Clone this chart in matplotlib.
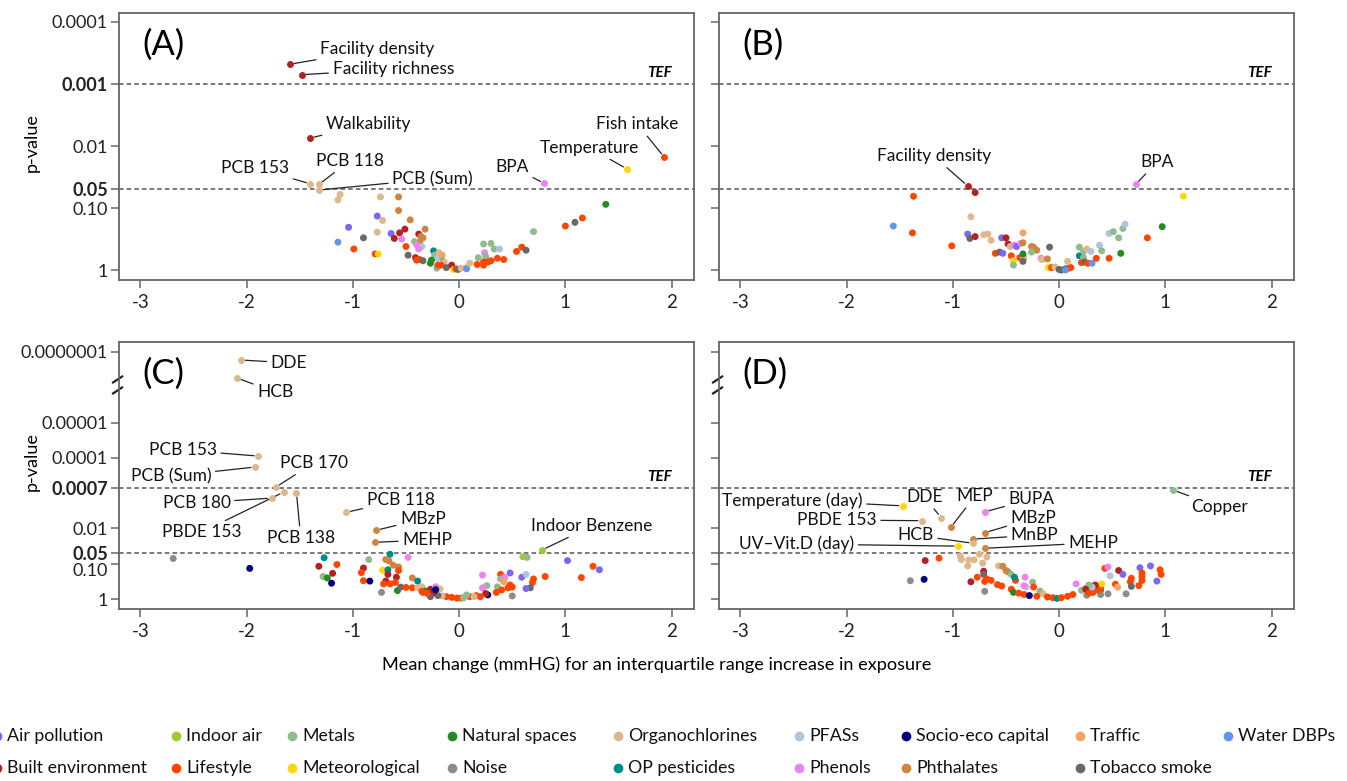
import numpy as np
import matplotlib.pyplot as plt
from matplotlib.transforms import ScaledTranslation

plt.rcParams['font.family'] = ['Lato', 'DejaVu Sans']

# exposure families, legend order (column-major, 2 rows)
fam_codes = ['AP', 'BE', 'IA', 'LS', 'ME', 'MT', 'NS', 'NO', 'OC', 'OP', 'PF', 'PH', 'SE', 'PT', 'TR', 'TS', 'WD']
fam_names = ['Air pollution', 'Built environment', 'Indoor air', 'Lifestyle', 'Metals', 'Meteorological',
             'Natural spaces', 'Noise', 'Organochlorines', 'OP pesticides', 'PFASs', 'Phenols',
             'Socio-eco capital', 'Phthalates', 'Traffic', 'Tobacco smoke', 'Water DBPs']
fam_colors = ['#7B68EE', '#B22222', '#9ACD32', '#FF4500', '#8FBC8F', '#FFD700', '#228B22', '#8C8C8C',
              '#DDB88C', '#008B8B', '#B0C4DE', '#EE82EE', '#000080', '#CD853F', '#F4A460', '#696969', '#6495ED']
col = dict(zip(fam_codes, fam_colors))

# ---- panel A: (mean change, -log10 p, family)
A_pts = [(-1.12,1.22,'OC'),(-1.14,1.13,'OC'),(-0.74,1.18,'OC'),(-0.57,1.18,'PT'),(-0.57,0.96,'PT'),
         (-0.77,0.87,'AP'),(-0.72,0.80,'OC'),(-0.46,0.81,'PT'),(-1.04,0.69,'AP'),(-0.77,0.61,'OC'),
         (-0.90,0.52,'TS'),(-1.14,0.45,'WD'),(-0.99,0.34,'LS'),(-0.64,0.59,'AP'),(-0.56,0.60,'BE'),
         (-0.51,0.66,'BE'),(-0.61,0.51,'BE'),(-0.54,0.50,'PH'),(-0.32,0.66,'PT'),(-0.38,0.58,'BE'),
         (-0.36,0.54,'PT'),(-0.34,0.52,'PT'),(-0.37,0.45,'PT'),(-0.42,0.46,'ME'),(-0.40,0.41,'PH'),
         (-0.35,0.38,'PF'),(-0.38,0.34,'PH'),(-0.50,0.38,'LS'),(-0.79,0.26,'LS'),(-0.76,0.26,'MT'),
         (-0.48,0.24,'TS'),(-0.41,0.20,'BE'),(-0.40,0.16,'LS'),(-0.37,0.17,'LS'),(-0.34,0.15,'TS'),
         (-0.24,0.31,'OP'),(-0.23,0.24,'ME'),(-0.19,0.28,'OC'),(-0.17,0.20,'OP'),(-0.20,0.19,'PF'),
         (-0.16,0.24,'TR'),(-0.14,0.13,'OC'),(-0.26,0.16,'NS'),(-0.27,0.11,'NS'),(-0.21,0.03,'ME'),
         (-0.20,0.08,'LS'),(-0.17,0.08,'LS'),(-0.12,0.04,'TS'),(-0.07,0.08,'BE'),(-0.05,0.01,'MT'),
         (-0.03,0.02,'LS'),(-0.01,0.01,'TS'),(0.02,0.03,'OC'),(0.07,0.04,'OC'),(0.07,0.02,'WD'),
         (0.10,0.11,'OC'),(0.17,0.09,'LS'),(0.18,0.20,'ME'),(0.23,0.42,'ME'),(0.30,0.43,'ME'),
         (0.24,0.28,'PH'),(0.25,0.22,'ME'),(0.33,0.34,'ME'),(0.38,0.34,'PF'),(0.23,0.13,'LS'),
         (0.23,0.08,'LS'),(0.27,0.13,'LS'),(0.30,0.15,'LS'),(0.36,0.19,'LS'),(0.42,0.17,'LS'),
         (0.54,0.30,'LS'),(0.59,0.37,'LS'),(0.63,0.32,'TS'),(0.70,0.62,'ME'),(1.00,0.71,'LS'),
         (1.09,0.77,'TS'),(1.16,0.84,'LS'),(1.38,1.06,'NS')]
# labelled points: name, x, -log10 p, family, label x, label y
A_lab = [('Facility density', -1.59, 3.32, 'BE', -0.77, 3.56),
         ('Facility richness', -1.48, 3.15, 'BE', -0.62, 3.24),
         ('Walkability', -1.40, 2.13, 'BE', -0.85, 2.35),
         ('PCB 153', -1.40, 1.39, 'OC', -1.92, 1.65),
         ('PCB 118', -1.32, 1.38, 'OC', -1.03, 1.76),
         ('PCB (Sum)', -1.32, 1.29, 'OC', -0.25, 1.47),
         ('BPA', 0.80, 1.40, 'PH', 0.50, 1.66),
         ('Temperature', 1.58, 1.63, 'MT', 1.23, 1.97),
         ('Fish intake', 1.93, 1.82, 'LS', 1.68, 2.35)]

# ---- panel B
B_pts = [(-1.37,1.19,'LS'),(-1.38,0.60,'LS'),(-1.01,0.39,'LS'),(-0.79,1.25,'BE'),(-0.83,0.86,'OC'),
         (-0.86,0.58,'AP'),(-0.84,0.51,'TS'),(-0.79,0.54,'BE'),(-0.71,0.57,'OC'),(-0.67,0.58,'OC'),
         (-0.64,0.48,'OC'),(-0.54,0.52,'AP'),(-0.50,0.52,'BE'),(-0.34,0.60,'TR'),(-0.48,0.42,'BE'),
         (-0.46,0.38,'OC'),(-0.42,0.40,'PH'),(-0.40,0.38,'AP'),(-0.36,0.43,'PH'),(-0.34,0.44,'PT'),
         (-0.26,0.38,'PT'),(-0.24,0.37,'PT'),(-0.21,0.32,'PT'),(-0.26,0.29,'ME'),(-0.09,0.37,'TS'),
         (-0.60,0.27,'LS'),(-0.56,0.29,'TS'),(-0.53,0.27,'AP'),(-0.45,0.23,'LS'),(-0.37,0.20,'LS'),
         (-0.35,0.19,'LS'),(-0.33,0.20,'OC'),(-0.34,0.26,'NS'),(-0.43,0.15,'MT'),(-0.43,0.08,'ME'),
         (-0.34,0.14,'TS'),(-0.17,0.19,'PH'),(-0.16,0.17,'OC'),(-0.11,0.18,'PT'),(-0.10,0.04,'MT'),
         (-0.07,0.04,'LS'),(-0.04,0.05,'OC'),(0.00,0.01,'TS'),(0.02,0.00,'TS'),(0.06,0.02,'OP'),
         (0.09,0.03,'LS'),(0.11,0.04,'LS'),(0.08,0.14,'OC'),(0.06,0.00,'WD'),(0.19,0.23,'OP'),
         (0.19,0.37,'ME'),(0.23,0.30,'ME'),(0.26,0.34,'OC'),(0.30,0.30,'PF'),(0.23,0.20,'ME'),
         (0.21,0.12,'LS'),(0.24,0.13,'TS'),(0.27,0.11,'LS'),(0.31,0.11,'WD'),(0.35,0.19,'LS'),
         (0.38,0.40,'PF'),(0.40,0.31,'ME'),(0.47,0.19,'LS'),(0.47,0.59,'PF'),(0.51,0.62,'ME'),
         (0.56,0.52,'ME'),(0.60,0.67,'ME'),(0.62,0.74,'PF'),(0.58,0.27,'NS'),(0.83,0.52,'LS'),
         (0.97,0.70,'NS'),(1.17,1.19,'MT'),(-1.56,0.71,'WD')]
B_lab = [('Facility density', -0.86, 1.355, 'BE', -1.18, 1.84),
         ('BPA', 0.72, 1.38, 'PH', 0.92, 1.74)]

# ---- panel C
C_pts = [(-2.69,1.15,'NO'),(-1.97,0.87,'SE'),(-1.27,1.17,'OP'),(-1.32,0.93,'BE'),(-1.15,0.98,'LS'),
         (-1.19,0.73,'BE'),(-1.28,0.64,'ME'),(-1.24,0.60,'NS'),(-1.20,0.45,'SE'),(-0.85,1.12,'ME'),
         (-0.90,0.88,'BE'),(-0.92,0.75,'LS'),(-0.90,0.52,'LS'),(-0.84,0.51,'SE'),(-0.65,1.27,'OP'),
         (-0.69,1.12,'PT'),(-0.66,1.08,'PT'),(-0.62,0.96,'PT'),(-0.57,0.91,'PT'),(-0.57,0.81,'LS'),
         (-0.72,0.82,'MT'),(-0.67,0.83,'OP'),(-0.67,0.70,'BE'),(-0.59,0.62,'BE'),(-0.69,0.51,'BE'),
         (-0.71,0.43,'LS'),(-0.65,0.43,'LS'),(-0.60,0.47,'LS'),(-0.73,0.19,'NO'),(-0.58,0.24,'NS'),
         (-0.55,0.34,'TS'),(-0.50,0.33,'LS'),(-0.44,0.32,'LS'),(-0.44,0.60,'PT'),(-0.39,0.51,'OP'),
         (-0.39,0.32,'OC'),(-0.35,0.35,'OC'),(-0.48,1.18,'PH'),(-0.34,0.19,'LS'),(-0.30,0.21,'LS'),
         (-0.27,0.28,'BE'),(-0.22,0.35,'PH'),(-0.23,0.23,'SE'),(-0.27,0.11,'TS'),(-0.32,0.23,'NS'),
         (0.60,1.20,'IA'),(0.64,1.18,'ME'),(1.02,1.09,'AP'),(1.26,0.93,'LS'),(1.32,0.83,'AP'),
         (1.15,0.61,'LS'),(0.81,0.64,'LS'),(0.70,0.57,'LS'),(0.69,0.47,'LS'),(0.67,0.32,'TS'),
         (0.63,0.30,'AP'),(0.59,0.62,'AP'),(0.63,0.70,'PF'),(0.48,0.74,'AP'),(0.50,0.34,'LS'),
         (0.48,0.40,'LS'),(0.46,0.32,'LS'),(0.50,0.09,'NO'),(0.39,0.70,'LS'),(0.39,0.57,'ME'),
         (0.43,0.62,'PH'),(0.42,0.49,'TR'),(0.36,0.35,'ME'),(0.40,0.26,'LS'),(0.35,0.19,'LS'),
         (0.22,0.68,'PH'),(0.26,0.38,'ME'),(0.22,0.32,'PH'),(0.27,0.12,'SE'),(0.25,0.16,'BE'),
         (0.20,0.07,'LS'),(0.16,0.10,'LS'),(0.10,0.07,'LS'),(0.07,0.12,'ME'),(0.02,0.03,'LS'),
         (-0.02,0.03,'LS'),(-0.07,0.05,'LS'),(-0.12,0.07,'LS'),(-0.16,0.09,'OC'),(-0.20,0.10,'TS'),
         (-0.24,0.18,'BE'),(-0.18,0.29,'OC'),(-0.22,0.27,'SE'),(-0.27,0.07,'TS'),(-0.30,0.16,'LS'),
         (-0.35,0.22,'LS'),(0.04,0.03,'ME'),(0.14,0.07,'OC')]
C_lab = [('DDE', -2.05, 6.77, 'OC', -1.60, 6.69),
         ('HCB', -2.09, 6.26, 'OC', -1.73, 5.86),
         ('PCB 153', -1.89, 4.05, 'OC', -2.60, 4.22),
         ('PCB (Sum)', -1.92, 3.74, 'OC', -2.71, 3.48),
         ('PCB 170', -1.725, 3.17, 'OC', -1.37, 3.85),
         ('PCB 180', -1.765, 2.86, 'OC', -2.47, 2.72),
         ('PBDE 153', -1.65, 3.03, 'OC', -2.42, 1.90),
         ('PCB 138', -1.53, 3.00, 'OC', -1.49, 1.73),
         ('PCB 118', -1.06, 2.46, 'OC', -0.55, 2.80),
         ('MBzP', -0.78, 1.95, 'PT', -0.34, 2.27),
         ('MEHP', -0.79, 1.61, 'PT', -0.30, 1.67),
         ('Indoor Benzene', 0.78, 1.39, 'IA', 1.25, 2.07)]

# ---- panel D
D_pts = [(-1.26,1.09,'BE'),(-1.13,1.16,'LS'),(-1.40,0.52,'NO'),(-1.27,0.56,'SE'),(-0.93,1.22,'OC'),
         (-0.92,1.12,'OC'),(-0.85,1.11,'OC'),(-0.80,1.11,'OC'),(-0.75,1.27,'OC'),(-0.68,1.19,'OC'),
         (-0.72,1.02,'OC'),(-0.86,0.94,'OC'),(-0.57,0.94,'OC'),(-0.53,0.93,'PT'),(-0.50,0.81,'PT'),
         (-0.48,0.77,'PT'),(-0.45,0.70,'ME'),(-0.71,0.79,'BE'),(-0.71,0.70,'TS'),(-0.77,0.62,'LS'),
         (-0.83,0.49,'BE'),(-0.68,0.57,'LS'),(-0.64,0.53,'LS'),(-0.70,0.50,'LS'),(-0.70,0.22,'NO'),
         (-0.58,0.41,'LS'),(-0.54,0.37,'LS'),(-0.41,0.53,'LS'),(-0.42,0.62,'OP'),(-0.32,0.62,'PH'),
         (-0.25,0.48,'ME'),(-0.24,0.34,'LS'),(-0.31,0.34,'PF'),(-0.33,0.38,'PH'),(-0.45,0.28,'LS'),
         (-0.43,0.19,'NS'),(-0.38,0.17,'LS'),(-0.33,0.13,'LS'),(-0.28,0.10,'SE'),(-0.18,0.23,'ME'),
         (-0.15,0.15,'OC'),(-0.21,0.08,'LS'),(-0.11,0.06,'LS'),(-0.06,0.04,'LS'),(-0.02,0.02,'OP'),
         (0.02,0.04,'LS'),(0.08,0.08,'LS'),(0.13,0.13,'LS'),(0.16,0.43,'PH'),(0.21,0.25,'ME'),
         (0.25,0.30,'IA'),(0.29,0.36,'AP'),(0.32,0.32,'LS'),(0.39,0.25,'TS'),(0.26,0.11,'NO'),
         (0.32,0.19,'LS'),(0.43,0.87,'LS'),(0.46,0.91,'PH'),(0.48,0.66,'PF'),(0.56,0.81,'BE'),
         (0.60,0.70,'AP'),(0.76,0.89,'AP'),(0.86,0.94,'AP'),(0.95,0.83,'LS'),(0.96,0.70,'LS'),
         (0.78,0.74,'LS'),(0.78,0.64,'LS'),(0.78,0.53,'LS'),(0.75,0.38,'LS'),(0.92,0.51,'AP'),
         (0.68,0.59,'LS'),(0.67,0.49,'LS'),(0.68,0.36,'TS'),(0.63,0.15,'NO'),(0.53,0.42,'LS'),
         (0.55,0.34,'TR'),(0.46,0.15,'NO'),(0.39,0.13,'NO'),(0.39,0.34,'LS'),(0.37,0.26,'LS'),
         (0.40,0.43,'MT'),(0.34,0.40,'BE'),(0.31,0.34,'PF'),(0.28,0.40,'ME'),(0.25,0.28,'BE'),
         (0.28,0.17,'LS')]
D_lab = [('Temperature (day)', -1.47, 2.64, 'MT', -2.51, 2.80),
         ('DDE', -1.11, 2.31, 'OC', -1.27, 2.89),
         ('PBDE 153', -1.29, 2.22, 'OC', -2.09, 2.24),
         ('MEP', -1.02, 2.03, 'PT', -0.79, 2.92),
         ('BUPA', -0.70, 2.47, 'PH', -0.26, 2.83),
         ('MBzP', -0.70, 1.88, 'PT', -0.24, 2.29),
         ('MnBP', -0.81, 1.70, 'PT', -0.23, 1.81),
         ('HCB', -0.81, 1.58, 'OC', -1.35, 1.81),
         ('MEHP', -0.70, 1.44, 'PT', 0.32, 1.59),
         ('UV\u2013Vit.D (day)', -0.95, 1.50, 'MT', -2.47, 1.56),
         ('Copper', 1.07, 3.09, 'ME', 1.51, 2.61)]

# y axis ticks (p-values) and thresholds
top_ticks = [1, 0.10, 0.05, 0.01, 0.001, 0.0001]
top_ticklabels = ['1', '0.10', '0.05', '0.01', '0.001', '0.0001']
bot_ticks = [1, 0.10, 0.05, 0.01, 0.0007, 0.0001, 0.00001, 0.0000001]
bot_ticklabels = ['1', '0.10', '0.05', '0.01', '0.0007', '0.0001', '0.00001', '0.0000001']
top_tef = 0.001
bot_tef = 0.0007
sig_p = 0.05

fig = plt.figure(figsize=(13.47, 7.81), dpi=100)
W, H = 1347, 781


def px_axes(x0, y0, x1, y1):
    return fig.add_axes([x0 / W, 1 - y1 / H, (x1 - x0) / W, (y1 - y0) / H])


axA = px_axes(119, 13, 694, 280)
axB = px_axes(719, 13, 1294, 280)
axC = px_axes(119, 342, 694, 609)
axD = px_axes(719, 342, 1294, 609)

grey = '#666666'


def draw(ax, pts, labs, ticks, ticklabels, tef, ylim, letter, show_labels):
    xs = [p[0] for p in pts]
    ys = [p[1] for p in pts]
    cs = [col[p[2]] for p in pts]
    ax.scatter(xs, ys, s=25, c=cs, linewidths=0, zorder=3)
    for name, x, y, f, tx, ty in labs:
        ax.scatter([x], [y], s=25, c=col[f], linewidths=0, zorder=4)
        ax.annotate(name, xy=(x, y), xytext=(tx, ty), ha='center', va='center', fontsize=12.5,
                    color='#111111',
                    arrowprops=dict(arrowstyle='-', color='#222222', lw=0.9, shrinkA=1, shrinkB=3))
    ax.axhline(-np.log10(tef), color='#555555', lw=1.1, ls=(0, (3, 2)), zorder=1)
    ax.axhline(-np.log10(sig_p), color='#555555', lw=1.1, ls=(0, (3, 2)), zorder=1)
    ax.annotate('TEF', xy=(2.0, -np.log10(tef)), xytext=(0, 3), textcoords='offset points',
                ha='right', va='bottom', fontsize=11, fontweight='bold', fontstyle='italic')
    ax.text(0.04, 0.88, letter, transform=ax.transAxes, fontsize=25, va='center', ha='left')
    ax.set_xlim(-3.2, 2.21)
    ax.set_ylim(*ylim)
    ax.set_xticks([-3, -2, -1, 0, 1, 2])
    ax.set_xticklabels(['-3', '-2', '-1', '0', '1', '2'])
    ax.set_yticks([-np.log10(t) for t in ticks])
    ax.set_yticklabels(ticklabels)
    ax.tick_params(direction='out', length=6, width=1.1, color=grey, labelsize=13.5,
                   labelcolor='#222222', pad=4)
    ax.tick_params(axis='y', labelleft=show_labels, labelsize=13, pad=2)
    for sp in ax.spines.values():
        sp.set_color(grey)
        sp.set_linewidth(1.3)
    if show_labels:
        for lbl in ax.get_yticklabels():
            if lbl.get_text() in ('0.05', '0.001', '0.0007'):
                lbl.set_fontweight('bold')


draw(axA, A_pts, A_lab, top_ticks, top_ticklabels, top_tef, (-0.16, 4.145), '(A)', True)
draw(axB, B_pts, B_lab, top_ticks, top_ticklabels, top_tef, (-0.16, 4.145), '(B)', False)
draw(axC, C_pts, C_lab, bot_ticks, bot_ticklabels, bot_tef, (-0.28, 7.28), '(C)', True)
draw(axD, D_pts, D_lab, bot_ticks, bot_ticklabels, bot_tef, (-0.28, 7.28), '(D)', False)

# nudge the crowded 0.10 label down
shift = ScaledTranslation(0, -4 / 72, fig.dpi_scale_trans)
lbl = axC.get_yticklabels()[1]
lbl.set_transform(lbl.get_transform() + shift)

# axis-break marks
for ax in (axC, axD):
    for y0 in (0.805, 0.846):
        ax.plot([-0.012, 0.007], [y0, y0 + 0.027], transform=ax.transAxes, color='#222222',
                lw=1.6, clip_on=False, solid_capstyle='butt')

fig.text(32 / W, 1 - 143 / H, 'p-value', rotation=90, ha='center', va='center', fontsize=13)
fig.text(32 / W, 1 - 462 / H, 'p-value', rotation=90, ha='center', va='center', fontsize=13)
fig.text(657 / W, 1 - 665 / H, 'Mean change (mmHG) for an interquartile range increase in exposure',
         ha='center', va='center', fontsize=13.1)

# legend, 2 rows, column-major like the family list
leg = fig.add_axes([0, 0, 1, 95 / H])
leg.set_xlim(0, W)
leg.set_ylim(H, H - 95)
leg.axis('off')
col_x = [-3, 176, 292, 452, 618, 799, 906, 1080, 1228]
row_y = [736, 768]
for i, (name, c) in enumerate(zip(fam_names, fam_colors)):
    cx = col_x[i // 2]
    cy = row_y[i % 2]
    leg.plot([cx], [cy], marker='o', ms=7, color=c, mec='none', clip_on=False)
    leg.text(cx + 10, cy, name, va='center', ha='left', fontsize=12.8, color='#111111')

fig.savefig('out.png', dpi=100)
